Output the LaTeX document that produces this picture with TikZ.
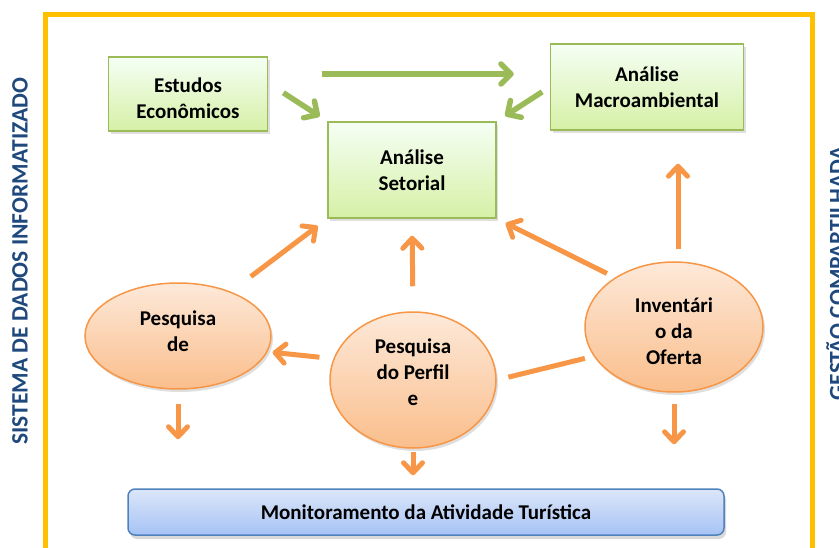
\documentclass[tikz,border=0pt]{standalone}
\usepackage{fontspec}
\setmainfont{Carlito}
\usepackage{xcolor}
\usepackage{tikz}
\usetikzlibrary{positioning,shapes.geometric,arrows.meta,shadows}
\definecolor{frameyellow}{HTML}{FFC000}
\definecolor{leafgreen}{HTML}{9BBB59}
\definecolor{ovalorange}{HTML}{F79646}
\definecolor{barblue}{HTML}{4F81BD}
\definecolor{sidetext}{HTML}{1F497D}

\begin{document}
\begin{tikzpicture}[x=1pt,y=-1pt,
  every node/.style={font=\bfseries\fontsize{21}{26}\selectfont,align=center,inner sep=0pt},
  greenbox/.style={draw=leafgreen,line width=1.5pt,top color=green!4!white,
    bottom color={rgb,255:red,214;green,240;blue,166},
    drop shadow={opacity=.25,shadow xshift=2pt,shadow yshift=-3pt}},
  oval/.style={ellipse,draw=ovalorange,line width=1.5pt,
    top color={rgb,255:red,253;green,233;blue,217},
    bottom color={rgb,255:red,250;green,190;blue,140},
    drop shadow={opacity=.25,shadow xshift=2pt,shadow yshift=-3pt}},
  bluebar/.style={draw=barblue,line width=1.5pt,rounded corners=7pt,
    top color={rgb,255:red,220;green,230;blue,249},
    bottom color={rgb,255:red,166;green,195;blue,245},
    drop shadow={opacity=.3,shadow xshift=2pt,shadow yshift=-4pt}},
  garrow/.style={draw=leafgreen,line width=5.5pt,-{Straight Barb[length=10pt,width=20pt,round]}},
  oarrow/.style={draw=ovalorange,line width=5pt,-{Straight Barb[length=10pt,width=19pt,round]}},
  sidelabel/.style={text=sidetext,rotate=90,font=\bfseries\fontsize{23.5}{26}\selectfont}]
\useasboundingbox (0,0) rectangle (839,548);
\draw[frameyellow,line width=5pt] (45,560) |- (812,15) -- (812,560);
\node[sidelabel] (sistema) at (20,261) {SISTEMA DE DADOS INFORMATIZADO};
\node[sidelabel] (gestao) at (836,273) {GESTÃO COMPARTILHADA};

\node[greenbox,minimum width=159pt,minimum height=74pt] (estudos) at (188,94) {\rule{0pt}{23.5pt}Estudos\\Econômicos};
\node[greenbox,minimum width=193pt,minimum height=86pt] (macro) at (647,87) {Análise\\Macroambiental};
\node[greenbox,minimum width=168pt,minimum height=96pt] (setorial) at (412,170) {Análise\\Setorial};
\node[oval,minimum width=186pt,minimum height=106pt] (demanda) at (178,336) {Pesquisa\\de\\[-16pt]};
\node[oval,minimum width=166pt,minimum height=136pt] (perfil) at (413,380) {Pesquisa\\do Perfil\\e\\[-10pt]};
\node[oval,minimum width=178pt,minimum height=130pt] (oferta) at (674,327) {\rule{0pt}{23.5pt}Inventári\\o da\\Oferta};
\node[bluebar,minimum width=596pt,minimum height=46pt] (monit) at (426,512) {Monitoramento da Atividade Turística};

\draw[garrow,shorten <=54pt,shorten >=36pt] ([yshift=20pt]estudos.east) -- ([yshift=13pt]macro.west);
\draw[garrow,shorten <=18pt,shorten >=9pt] ([yshift=11pt]estudos.east) -- (setorial.north west);
\draw[garrow,shorten <=9pt,shorten >=10pt] (macro.west) -- (setorial.north east);

\draw[oarrow,shorten <=25pt,shorten >=12pt] (demanda.40) -- (setorial.south west);
\draw[oarrow,shorten <=25pt,shorten >=17pt] (perfil.north) -- (setorial.south);
\draw[oarrow,shorten <=9pt,shorten >=10pt] (oferta.140) -- (setorial.south east);
\draw[oarrow,shorten <=12pt,shorten >=33pt] ([xshift=4pt]oferta.north) -- ([xshift=31pt]macro.south);
\draw[oarrow,shorten <=14pt,shorten >=5pt] (perfil.165) -- (demanda.-10);
\draw[ovalorange,line width=5pt,shorten <=12pt,shorten >=9pt] (perfil.east) -- (oferta.200);
\draw[oarrow,shorten <=14pt,shorten >=49pt] (demanda.south) -- (demanda.south |- monit.north);
\draw[oarrow,shorten <=3pt,shorten >=13pt] (perfil.south) -- (perfil.south |- monit.north);
\draw[oarrow,shorten <=11pt,shorten >=44pt] (oferta.south) -- (oferta.south |- monit.north);
\end{tikzpicture}
\end{document}
